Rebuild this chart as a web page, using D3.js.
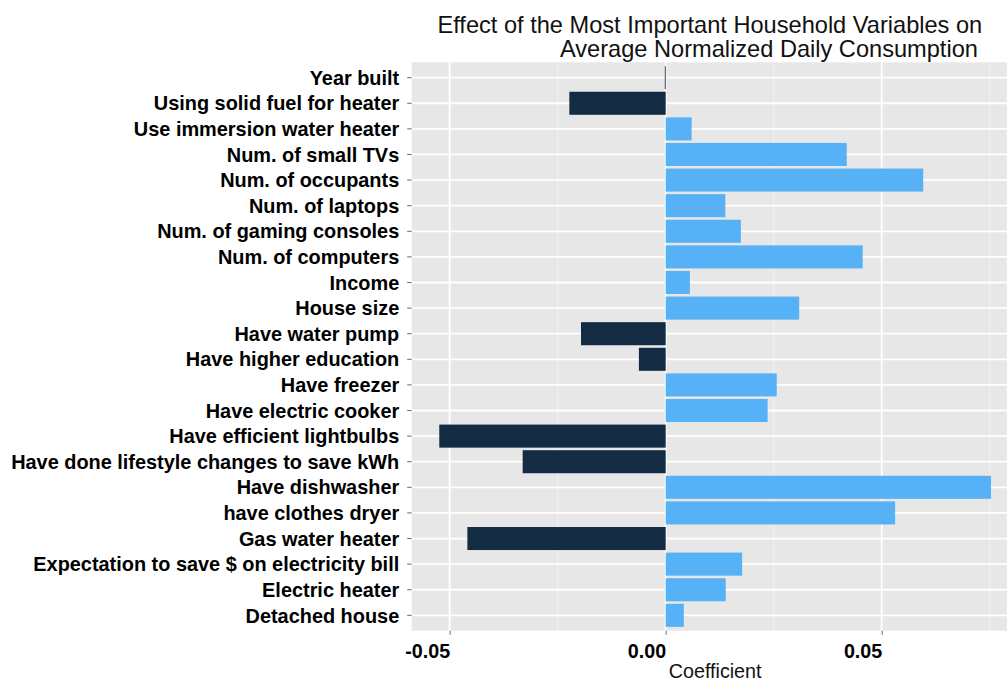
<!DOCTYPE html>
<html>
<head>
<meta charset="utf-8">
<script src="https://cdn.jsdelivr.net/npm/d3@7/dist/d3.min.js"></script>
<style>
  html, body { margin: 0; padding: 0; background: #ffffff; }
  svg { display: block; font-family: "Liberation Sans", Arial, Helvetica, sans-serif; }
</style>
</head>
<body>
<svg id="chart" width="1007" height="683"></svg>
<script>
// Household variables, listed top to bottom
const variables = [
  "Year built",
  "Using solid fuel for heater",
  "Use immersion water heater",
  "Num. of small TVs",
  "Num. of occupants",
  "Num. of laptops",
  "Num. of gaming consoles",
  "Num. of computers",
  "Income",
  "House size",
  "Have water pump",
  "Have higher education",
  "Have freezer",
  "Have electric cooker",
  "Have efficient lightbulbs",
  "Have done lifestyle changes to save kWh",
  "Have dishwasher",
  "have clothes dryer",
  "Gas water heater",
  "Expectation to save $ on electricity bill",
  "Electric heater",
  "Detached house"
];

// Regression coefficient for each variable (same order)
const coefficients = [
  -0.0002,
  -0.0223,
  0.0060,
  0.0419,
  0.0596,
  0.0138,
  0.0174,
  0.0456,
  0.0056,
  0.0309,
  -0.0196,
  -0.0062,
  0.0257,
  0.0236,
  -0.0524,
  -0.0331,
  0.0753,
  0.0531,
  -0.0459,
  0.0177,
  0.0139,
  0.0042
];

const xTickValues = [-0.05, 0, 0.05];
const xTickLabels = ["-0.05", "0.00", "0.05"];
const xMinorValues = [-0.025, 0.025, 0.075];

const titleLines = [
  "Effect of the Most Important Household Variables on",
  "Average Normalized Daily Consumption"
];
const xAxisTitle = "Coefficient";

const data = variables.map((v, i) => ({ name: v, value: coefficients[i] }));

const svg = d3.select("#chart");
const panel = { left: 411.7, right: 1018.6, top: 62.3, bottom: 630.7 };

// Continuous axis expanded by 5% of the data range on each side
const ext = d3.extent([0, ...coefficients]);
const pad = (ext[1] - ext[0]) * 0.05;
const x = d3.scaleLinear()
  .domain([ext[0] - pad, ext[1] + pad])
  .range([panel.left, panel.right]);

const y = d3.scaleBand()
  .domain(variables)
  .range([panel.top, panel.bottom])
  .paddingInner(0.1)
  .paddingOuter(0.15);

const fill = d3.scaleOrdinal()
  .domain([false, true])
  .range(["#132B43", "#56B1F7"]);

// Panel background
svg.append("rect")
  .attr("x", panel.left)
  .attr("y", panel.top)
  .attr("width", panel.right - panel.left)
  .attr("height", panel.bottom - panel.top)
  .attr("fill", "#e7e7e7");

const grid = svg.append("g");

// Minor vertical grid
grid.selectAll("line.minor")
  .data(xMinorValues)
  .join("line")
  .attr("class", "minor")
  .attr("x1", d => x(d)).attr("x2", d => x(d))
  .attr("y1", panel.top).attr("y2", panel.bottom)
  .attr("stroke", "#f2f2f2")
  .attr("stroke-width", 1);

// Major vertical grid
grid.selectAll("line.vmajor")
  .data(xTickValues)
  .join("line")
  .attr("class", "vmajor")
  .attr("x1", d => x(d)).attr("x2", d => x(d))
  .attr("y1", panel.top).attr("y2", panel.bottom)
  .attr("stroke", "#ffffff")
  .attr("stroke-width", 1.8);

// Major horizontal grid, one per variable
grid.selectAll("line.hmajor")
  .data(variables)
  .join("line")
  .attr("class", "hmajor")
  .attr("x1", panel.left).attr("x2", panel.right)
  .attr("y1", d => y(d) + y.bandwidth() / 2)
  .attr("y2", d => y(d) + y.bandwidth() / 2)
  .attr("stroke", "#ffffff")
  .attr("stroke-width", 1.8);

// Bars
svg.append("g")
  .selectAll("rect")
  .data(data)
  .join("rect")
  .attr("x", d => Math.min(x(0), x(d.value)))
  .attr("width", d => Math.abs(x(d.value) - x(0)))
  .attr("y", d => y(d.name))
  .attr("height", y.bandwidth())
  .attr("fill", d => fill(d.value > 0));

// Y axis
const yAxis = svg.append("g")
  .attr("transform", `translate(${panel.left},0)`)
  .call(d3.axisLeft(y).tickSize(4.5).tickPadding(8));
yAxis.select(".domain").remove();
yAxis.selectAll(".tick line").attr("stroke", "#6a6a6a").attr("stroke-width", 1);
yAxis.selectAll(".tick text")
  .attr("fill", "#000")
  .attr("font-size", "19.9px")
  .attr("font-weight", "bold")
  .attr("font-family", "'Liberation Sans', Arial, sans-serif")
  .attr("dy", "0.36em");

// X axis
const xAxis = svg.append("g")
  .attr("transform", `translate(0,${panel.bottom})`)
  .call(d3.axisBottom(x)
    .tickValues(xTickValues)
    .tickFormat((d, i) => xTickLabels[i])
    .tickSize(4)
    .tickPadding(9));
xAxis.select(".domain").remove();
xAxis.selectAll(".tick line").attr("stroke", "#6a6a6a").attr("stroke-width", 1);
xAxis.selectAll(".tick text")
  .attr("fill", "#000")
  .attr("font-size", "19.7px")
  .attr("font-weight", "bold")
  .attr("font-family", "'Liberation Sans', Arial, sans-serif")
  .attr("text-anchor", "end");

// Axis title
svg.append("text")
  .attr("x", (panel.left + panel.right) / 2)
  .attr("y", 678)
  .attr("text-anchor", "middle")
  .attr("font-size", "19.7px")
  .attr("fill", "#111")
  .text(xAxisTitle);

// Chart title
const titleX = [437.5, 560];
const titleY = [33, 56.5];
svg.append("g")
  .selectAll("text")
  .data(titleLines)
  .join("text")
  .attr("x", (d, i) => titleX[i])
  .attr("y", (d, i) => titleY[i])
  .attr("font-size", "23.6px")
  .attr("fill", "#111")
  .text(d => d);
</script>
</body>
</html>
